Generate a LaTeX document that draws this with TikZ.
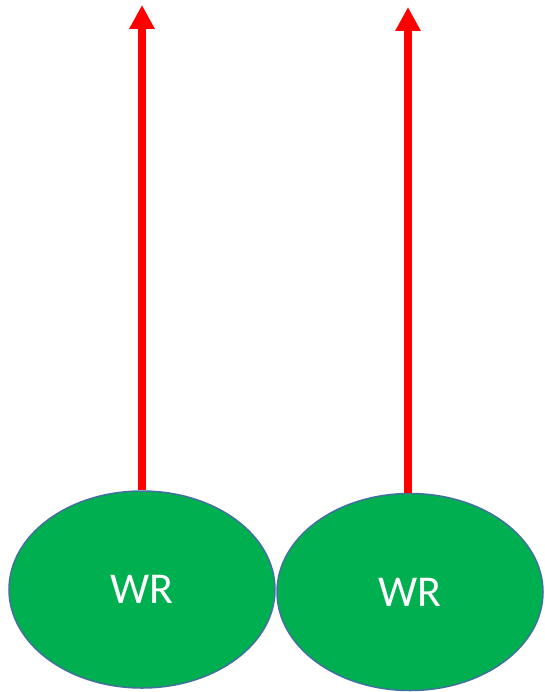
\documentclass[tikz,border=0pt]{standalone}
\usepackage{fontspec}
\setmainfont{Carlito}
\usetikzlibrary{shapes.geometric,arrows.meta}

\definecolor{wrgreen}{RGB}{0,176,80}
\definecolor{wredge}{RGB}{65,113,156}

\tikzset{
    wrnode/.style={ellipse,draw=wredge,line width=1.5bp,fill=wrgreen,
        minimum width=266bp,minimum height=197bp,inner sep=0pt,
        text=white,font=\fontsize{44bp}{50bp}\selectfont},
    uparrow/.style={draw=red,line width=8bp,-{Triangle[length=24bp,width=24bp]}}
}

\begin{document}
\begin{tikzpicture}[x=1bp,y=-1bp]
        \useasboundingbox (0,0) rectangle (545,692);

        \node[wrnode] (wrl) at (142,589.5) {\raisebox{-3bp}{WR}};
        \node[wrnode] (wrr) at (410,592) {\raisebox{-4bp}{WR}};

        \coordinate (tipl) at (142,5);
        \coordinate (tipr) at (408,7);

        \draw[uparrow] (wrl.north) -- (tipl);
        \draw[uparrow] (wrr.north -| tipr) -- (tipr);
    \end{tikzpicture}
\end{document}
